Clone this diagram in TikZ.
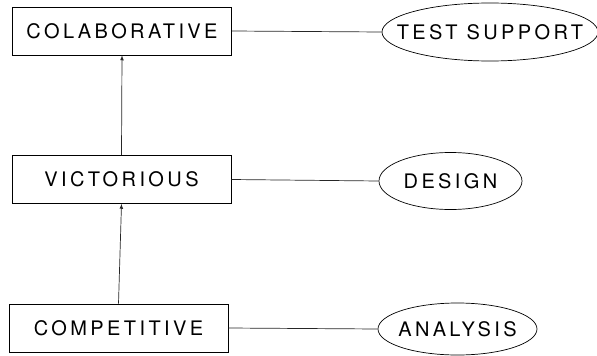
\documentclass[tikz,border=0pt]{standalone}
\usepackage{fontspec}
\setmainfont{TeX Gyre Heros}[LetterSpace=17]
\usepackage{tikz}
\usetikzlibrary{shapes, arrows}

\newcommand{\ovaltext}[1]{\makebox[0pt]{#1}}

\tikzset{
    level/.style={draw, line width=0.7pt, minimum width=219pt, minimum height=48pt, inner sep=0pt, font=\fontsize{20}{22}\selectfont},
    goal/.style={draw, ellipse, line width=0.7pt, inner sep=0pt, font=\fontsize{20}{22}\selectfont},
    link/.style={line width=0.7pt, color=black!85}
}

\begin{document}
\begin{tikzpicture}[x=1pt,y=-1pt]
        \useasboundingbox (0,0) rectangle (597,356);
        % left column
        \node[level] (col) at (122,31) {COLABORATIVE};
        \node[level] (vic) at (121.5,179.5) {VICTORIOUS};
        \node[level] (com) at (118.5,328) {COMPETITIVE};
        % right column
        \node[goal, minimum width=216pt, minimum height=58pt] (test) at (490,32) {\ovaltext{TEST SUPPORT}};
        \node[goal, minimum width=143pt, minimum height=57pt] (des) at (450.5,181) {\ovaltext{DESIGN}};
        \node[goal, minimum width=159pt, minimum height=52pt] (ana) at (457.5,329) {\ovaltext{ANALYSIS}};
        % arrows up
        \draw[link, -latex] (vic.north) -- (col.south);
        \draw[link, -latex] (com.north) -- (vic.south);
        % lines across
        \draw[link] (col.east) -- (test.west);
        \draw[link] (vic.east) -- (des.west);
        \draw[link] (com.east) -- (ana.west);
    \end{tikzpicture}
\end{document}
